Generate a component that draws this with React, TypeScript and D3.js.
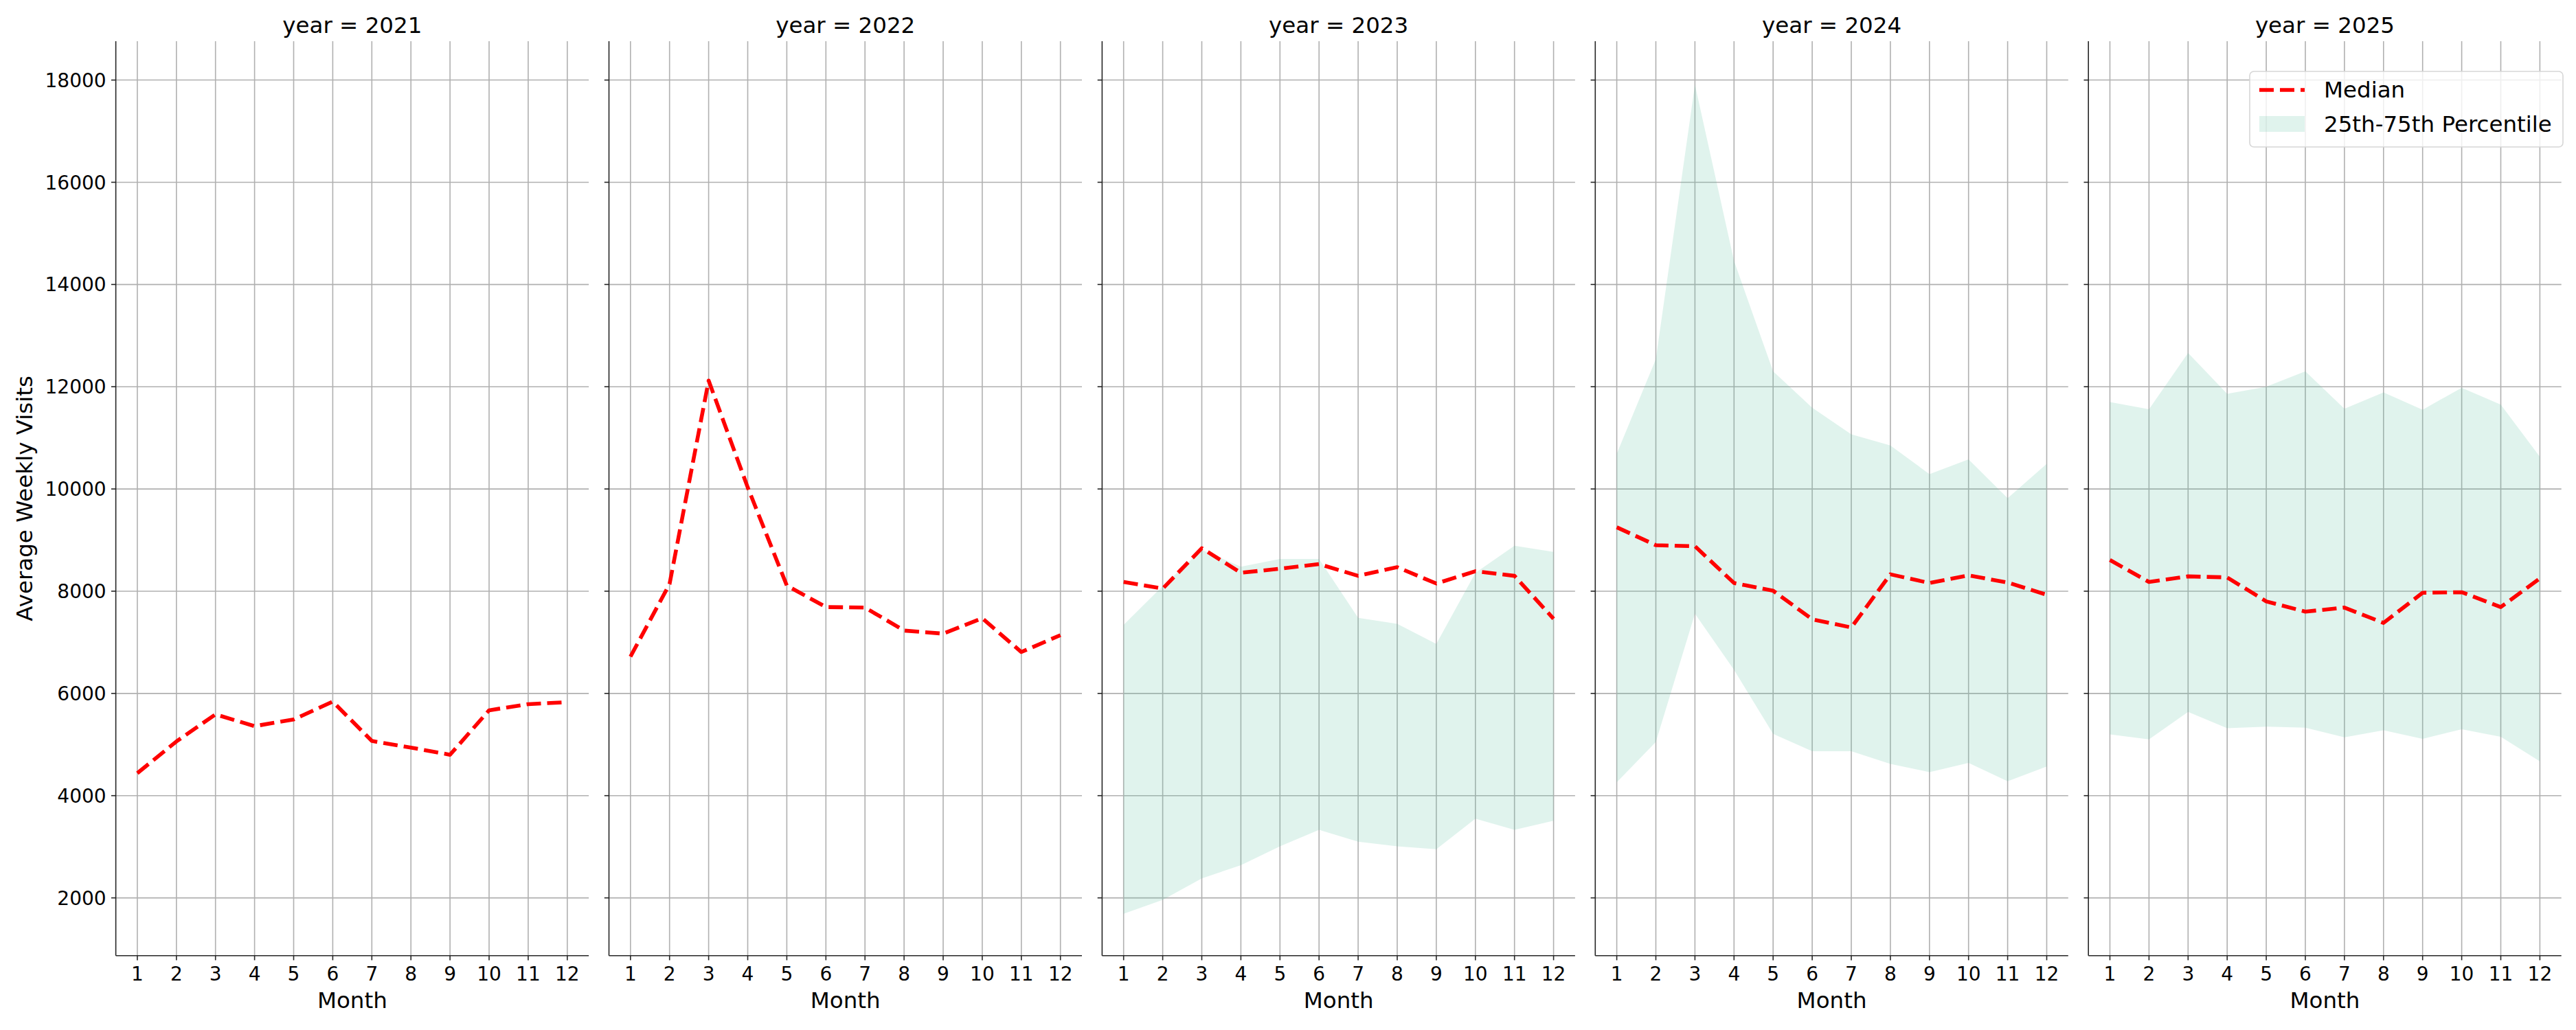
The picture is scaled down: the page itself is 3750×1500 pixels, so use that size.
import * as d3 from "d3";

// Facet years and month axis
const years = [2021, 2022, 2023, 2024, 2025];
const months = [1, 2, 3, 4, 5, 6, 7, 8, 9, 10, 11, 12];
const yTicks = [2000, 4000, 6000, 8000, 10000, 12000, 14000, 16000, 18000];

// Median of average weekly visits per month
const median2021 = [4440, 5060, 5590, 5360, 5490, 5840, 5070, 4940, 4800, 5670, 5790, 5830];
const median2022 = [6720, 8140, 12120, 10030, 8110, 7690, 7680, 7230, 7170, 7470, 6810, 7140];
const median2023 = [8180, 8050, 8840, 8360, 8440, 8530, 8300, 8470, 8150, 8390, 8300, 7460];
const median2024 = [9250, 8900, 8880, 8160, 8010, 7450, 7290, 8330, 8160, 8310, 8170, 7930];
const median2025 = [8610, 8180, 8290, 8270, 7800, 7600, 7680, 7380, 7970, 7980, 7690, 8250];

// 25th / 75th percentile band (none for 2021, 2022)
const p25_2023 = [1690, 1960, 2380, 2640, 3010, 3330, 3100, 3010, 2950, 3550, 3330, 3510];
const p75_2023 = [7340, 8100, 8810, 8480, 8630, 8630, 7480, 7360, 6970, 8360, 8890, 8770];
const p25_2024 = [4260, 5050, 7560, 6460, 5210, 4870, 4870, 4620, 4460, 4640, 4280, 4570];
const p75_2024 = [10690, 12540, 17910, 14460, 12300, 11590, 11070, 10850, 10290, 10580, 9820, 10490];
const p25_2025 = [5200, 5100, 5640, 5320, 5350, 5330, 5140, 5280, 5110, 5300, 5150, 4670];
const p75_2025 = [11700, 11560, 12660, 11860, 12000, 12300, 11570, 11890, 11550, 11980, 11650, 10630];

const medians = [median2021, median2022, median2023, median2024, median2025];
const lows: (number[] | null)[] = [null, null, p25_2023, p25_2024, p25_2025];
const highs: (number[] | null)[] = [null, null, p75_2023, p75_2024, p75_2025];

const W = 3750;
const H = 1500;
const FONT = "DejaVu Sans";
const panelLeft0 = 168.6;
const panelStep = 717.9;
const panelW = 688.5;
const panelTop = 60;
const panelBottom = 1391.7;
const gridColor = "#b0b0b0";
const axisColor = "#262626";

const y = d3.scaleLinear().domain([870, 18760]).range([panelBottom, panelTop]);

function Panel({ idx }: { idx: number }) {
  const left = panelLeft0 + idx * panelStep;
  const x = d3.scaleLinear().domain([0.45, 12.55]).range([left, left + panelW]);
  const med = medians[idx];
  const lo = lows[idx];
  const hi = highs[idx];

  const line = d3.line<number>()
    .x((_, i) => x(months[i]))
    .y((d) => y(d));

  const area = d3.area<number>()
    .x((_, i) => x(months[i]))
    .y0((_, i) => y(lo ? lo[i] : 0))
    .y1((d) => y(d));

  const cx = left + panelW / 2;

  return (
    <g>
      {/* grid */}
      {months.map((m) => (
        <line key={"gx" + m} x1={x(m)} x2={x(m)} y1={panelTop} y2={panelBottom}
          stroke={gridColor} strokeWidth={1.6} />
      ))}
      {yTicks.map((t) => (
        <line key={"gy" + t} x1={left} x2={left + panelW} y1={y(t)} y2={y(t)}
          stroke={gridColor} strokeWidth={1.6} />
      ))}

      {/* percentile band */}
      {lo && hi && (
        <path d={area(hi) || ""} fill="#66c2a5" fillOpacity={0.2} />
      )}

      {/* median */}
      <path d={line(med) || ""} fill="none" stroke="#ff0000" strokeWidth={5.6}
        strokeDasharray="21 9" strokeLinejoin="round" />

      {/* spines */}
      <line x1={left} x2={left} y1={panelTop} y2={panelBottom} stroke={axisColor} strokeWidth={1.6} />
      <line x1={left} x2={left + panelW} y1={panelBottom} y2={panelBottom} stroke={axisColor} strokeWidth={1.6} />

      {/* y ticks */}
      {yTicks.map((t) => (
        <g key={"yt" + t}>
          <line x1={left - 6.7} x2={left} y1={y(t)} y2={y(t)} stroke={axisColor} strokeWidth={1.6} />
          {idx === 0 && (
            <text x={left - 14} y={y(t)} dy="0.36em" textAnchor="end" fontSize={28}
              fontFamily={FONT} fill="#000">{t}</text>
          )}
        </g>
      ))}

      {/* x ticks */}
      {months.map((m) => (
        <g key={"xt" + m}>
          <line x1={x(m)} x2={x(m)} y1={panelBottom} y2={panelBottom + 6.7} stroke={axisColor} strokeWidth={1.6} />
          <text x={x(m)} y={1428} textAnchor="middle" fontSize={28} fontFamily={FONT} fill="#000">{m}</text>
        </g>
      ))}

      <text x={cx} y={1468} textAnchor="middle" fontSize={32.5} fontFamily={FONT} fill="#000">Month</text>
      <text x={cx} y={48} textAnchor="middle" fontSize={32.5} fontFamily={FONT} fill="#000">
        {`year = ${years[idx]}`}
      </text>
    </g>
  );
}

export default function App() {
  return (
    <svg width={W} height={H} viewBox={`0 0 ${W} ${H}`}
      style={{ position: "absolute", left: 0, top: 0, background: "#fff" }}>
      <rect x={0} y={0} width={W} height={H} fill="#fff" />
      {years.map((_, i) => (
        <Panel key={i} idx={i} />
      ))}

      <text transform={`translate(47, ${(panelTop + panelBottom) / 2}) rotate(-90)`}
        textAnchor="middle" fontSize={32.5} fontFamily={FONT} fill="#000">
        Average Weekly Visits
      </text>

      {/* legend */}
      <g>
        <rect x={3275} y={104} width={456} height={110} rx={6} fill="#fff" fillOpacity={0.8}
          stroke="#d6d6d6" strokeWidth={1.6} />
        <line x1={3289} x2={3355} y1={131} y2={131} stroke="#ff0000" strokeWidth={5.6}
          strokeDasharray="21 9" />
        <text x={3383} y={142} fontSize={32.5} fontFamily={FONT} fill="#000">Median</text>
        <rect x={3289} y={169} width={66} height={23} fill="#66c2a5" fillOpacity={0.2} />
        <text x={3383} y={192} fontSize={32.5} fontFamily={FONT} fill="#000">25th-75th Percentile</text>
      </g>
    </svg>
  );
}
